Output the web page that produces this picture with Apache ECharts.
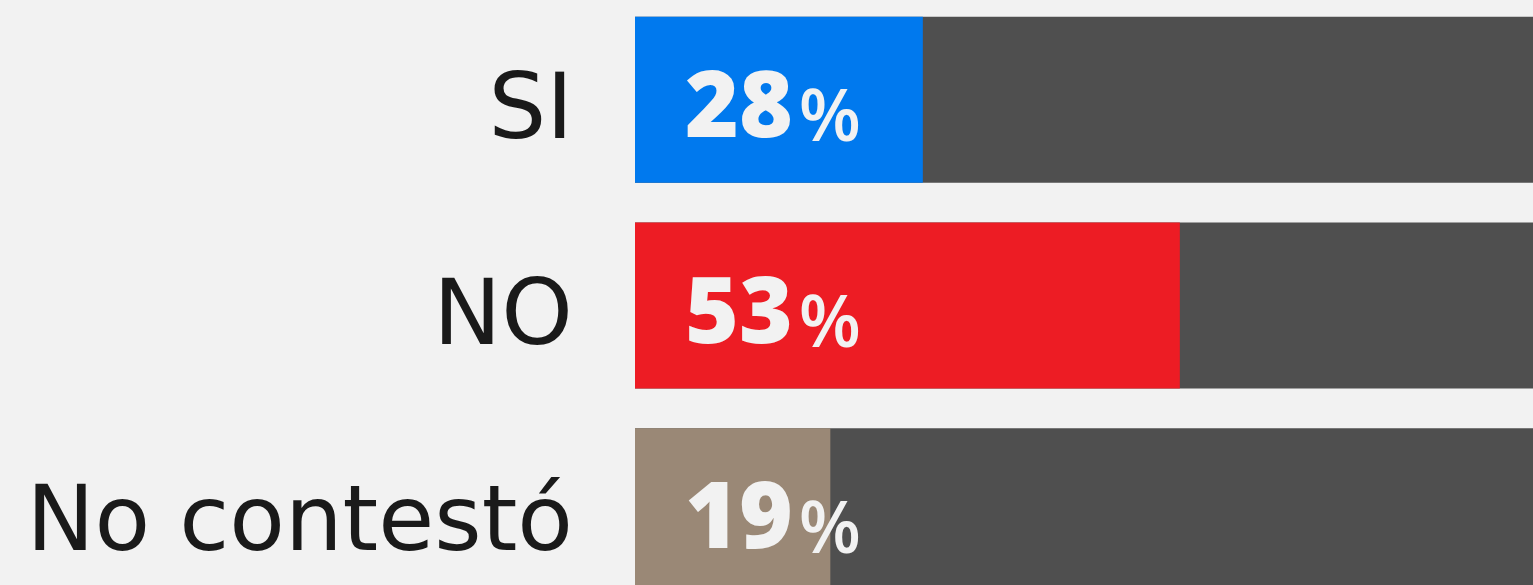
<!DOCTYPE html>
<html>
<head>
<meta charset="utf-8">
<script src="https://cdn.jsdelivr.net/npm/echarts@6/dist/echarts.min.js"></script>
<style>
html,body{margin:0;padding:0;background:#f2f2f2;}
#c{width:1533px;height:585px;}
</style>
</head>
<body>
<div id="c"></div>
<script>
const categories = ['SI', 'NO', 'No contestó'];
const values = [28, 53, 19];
const colors = ['#0079ee', '#ed1c24', '#9a8876'];
const axisMax = 100;

const chart = echarts.init(document.getElementById('c'), null, {renderer: 'canvas'});
chart.setOption({
  backgroundColor: '#f2f2f2',
  animation: false,
  grid: {left: 635, right: -130, top: -3, bottom: -29, containLabel: false, outerBoundsMode: 'none'},
  xAxis: {
    type: 'value', min: 0, max: axisMax,
    show: false
  },
  yAxis: {
    type: 'category', data: categories, inverse: true,
    axisLine: {show: false}, axisTick: {show: false}, splitLine: {show: false},
    axisLabel: {
      margin: 62,
      formatter: v => '{c|' + v + '}',
      rich: {
        c: {
          color: '#1a1a1a',
          fontFamily: 'DejaVu Sans',
          fontSize: 91,
          fontWeight: 'normal',
          padding: [30, 0, 0, 0]
        }
      }
    }
  },
  series: [{
    type: 'bar',
    data: values.map((v, i) => ({value: v, itemStyle: {color: colors[i]}})),
    barWidth: 166,
    showBackground: true,
    backgroundStyle: {color: '#4f4f4f'},
    label: {
      show: true,
      position: 'insideLeft',
      distance: 50,
      offset: [0, 11],
      formatter: p => '{n|' + p.value + '}{p|%}',
      rich: {
        n: {color: '#f2f2f2', fontFamily: 'Open Sans', fontWeight: 800, fontSize: 92, verticalAlign: 'bottom', lineHeight: 92},
        p: {color: '#f2f2f2', fontFamily: 'Open Sans', fontWeight: 600, fontSize: 72, verticalAlign: 'bottom', lineHeight: 92, padding: [0, 0, 0, 6]}
      }
    }
  }]
});
</script>
</body>
</html>
